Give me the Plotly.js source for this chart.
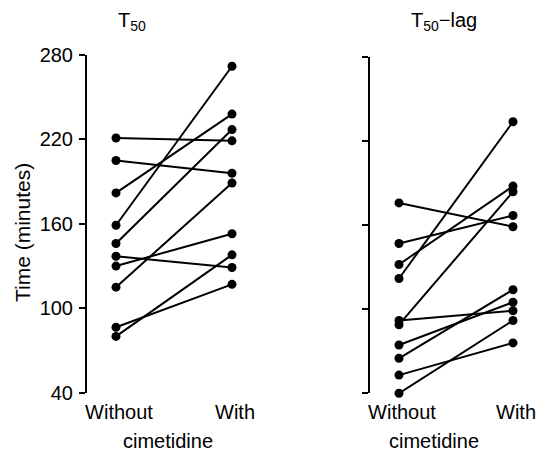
<!DOCTYPE html>
<html>
<head>
<meta charset="utf-8">
<script src="https://cdn.plot.ly/plotly-3.0.1.min.js"></script>
<style>html,body{margin:0;padding:0;background:#fff;}#chart{width:542px;height:458px;}</style>
</head>
<body>
<div id="chart"></div>
<script>
const categories = ['Without', 'With'];
const yTicks = [40, 100, 160, 220, 280];
const t50Without = [221, 205, 182, 159, 146, 137, 130, 115, 86.5, 80];
const t50With    = [219, 196, 238, 272, 227, 129, 153, 189, 117, 138];
const lagWithout = [176, 147, 132, 122, 92, 89, 74.5, 65, 53, 40];
const lagWith    = [159, 167, 188, 234, 99, 184, 105, 114, 76, 92];

const W = 542, H = 458;
const px = v => v / W;
const py = v => 1 - v / H;
const FONT = 'Liberation Sans, Arial, Helvetica, sans-serif';
const FS = 20;

const traces = [];
function addPanel(wo, wi, xa, ya) {
  for (let i = 0; i < wo.length; i++) {
    traces.push({
      type: 'scatter', mode: 'lines+markers',
      x: categories, y: [wo[i], wi[i]],
      xaxis: xa, yaxis: ya,
      line: {color: '#000', width: 2},
      marker: {color: '#000', size: 9},
      showlegend: false, hoverinfo: 'skip', cliponaxis: false
    });
  }
}
addPanel(t50Without, t50With, 'x', 'y');
addPanel(lagWithout, lagWith, 'x2', 'y2');

const xBase = {
  type: 'category', showline: false, showgrid: false, zeroline: false,
  ticks: '', ticklabelstandoff: 5, ticklabelshift: 3,
  tickfont: {family: FONT, size: FS, color: '#000'}
};
const yBase = {
  range: [40, 280], tickvals: yTicks, showline: true, linewidth: 2, linecolor: '#000',
  ticks: 'outside', ticklen: 6, tickwidth: 2, tickcolor: '#000',
  showgrid: false, zeroline: false,
  tickfont: {family: FONT, size: FS, color: '#000'}
};

function ann(text, x, y, extra) {
  return Object.assign({text: text, x: px(x), y: py(y), xref: 'paper', yref: 'paper',
    xanchor: 'center', yanchor: 'middle', showarrow: false,
    font: {family: FONT, size: FS, color: '#000'}}, extra || {});
}

const layout = {
  width: W, height: H,
  margin: {l: 0, r: 0, t: 0, b: 0},
  paper_bgcolor: '#fff', plot_bgcolor: 'rgba(0,0,0,0)',
  font: {family: FONT, color: '#000'},
  xaxis: Object.assign({}, xBase, {domain: [px(87), px(262)], range: [-0.25, 1.2586], anchor: 'y'}),
  yaxis: Object.assign({}, yBase, {domain: [py(392.7), py(55)], anchor: 'x', ticklabelstandoff: 2}),
  xaxis2: Object.assign({}, xBase, {domain: [px(370), px(540)], range: [-0.2544, 1.2368], anchor: 'y2'}),
  yaxis2: Object.assign({}, yBase, {domain: [py(393.3), py(57.3)], anchor: 'x2', showticklabels: false}),
  annotations: [
    ann('T<sub>50</sub>', 132, 21),
    ann('T<sub>50</sub>\u2212lag', 444, 21),
    ann('Time (minutes)', 22, 233, {textangle: -90, font: {family: FONT, size: 21, color: '#000'}}),
    ann('cimetidine', 168, 441),
    ann('cimetidine', 434, 441)
  ]
};

Plotly.newPlot('chart', traces, layout, {displayModeBar: false, staticPlot: true});
</script>
</body>
</html>
